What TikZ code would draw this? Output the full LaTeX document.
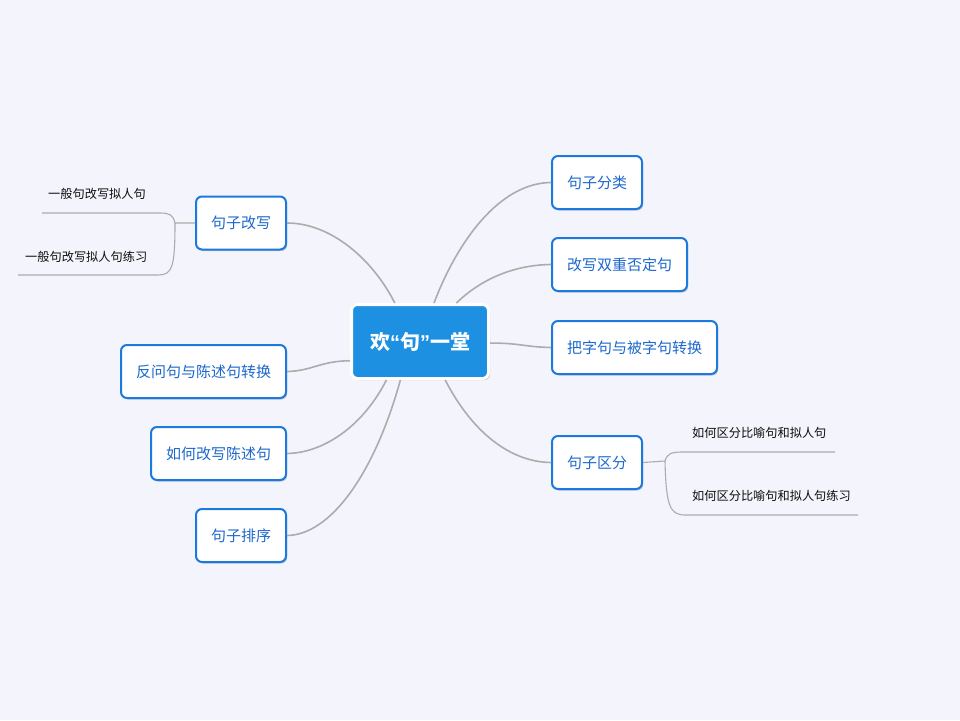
\documentclass[tikz,border=0pt]{standalone}
\usepackage{fontspec}
\setmainfont{Noto Sans CJK SC}
\newfontfamily\quotefont{Liberation Sans}
\usetikzlibrary{calc, shadows}

\definecolor{bgcol}{RGB}{244,245,252}
\definecolor{rootblue}{RGB}{30,144,226}
\definecolor{boxblue}{RGB}{28,122,222}
\definecolor{txtblue}{RGB}{28,104,204}
\definecolor{linegray}{RGB}{172,172,172}

\begin{document}
\begin{tikzpicture}[x=1pt, y=-1pt,
  root/.style={draw=white, line width=3pt, fill=rootblue, rounded corners=6pt,
    minimum width=137pt, minimum height=74pt, text=white,
    font=\fontsize{20}{24}\selectfont\bfseries,
    drop shadow={shadow xshift=1.5pt, shadow yshift=-1.5pt, fill=black, opacity=.25}},
  topic/.style={draw=boxblue, line width=2pt, fill=white, rounded corners=6pt,
    inner xsep=15pt, minimum height=53pt, text=txtblue,
    font=\fontsize{15}{18}\selectfont,
    drop shadow={shadow xshift=1.2pt, shadow yshift=-1.5pt, fill=black, opacity=.2}},
  leaf/.style={text=black!95, font=\fontsize{12.2}{15}\selectfont, inner sep=0pt},
  branch/.style={draw=linegray, line width=1.6pt},
  twig/.style={draw=linegray, line width=1.1pt}]
\useasboundingbox (0,0) rectangle (960,720);
\fill[bgcol] (0,0) rectangle (960,720);

% centre and topics
\node[root] (root) at (420,341.5) {欢{\quotefont\bfseries “}句{\quotefont\bfseries ”}一堂};
\node[topic, anchor=west] (n1) at (551,182.5) {句子分类};
\node[topic, anchor=west] (n2) at (551,264.5) {改写双重否定句};
\node[topic, anchor=west] (n3) at (551,347.5) {把字句与被字句转换};
\node[topic, anchor=west] (n4) at (551,462.5) {句子区分};
\node[topic, anchor=east] (m1) at (287,223) {句子改写};
\node[topic, anchor=east] (m2) at (287,371.5) {反问句与陈述句转换};
\node[topic, anchor=east] (m3) at (287,453.5) {如何改写陈述句};
\node[topic, anchor=east] (m4) at (287,535.5) {句子排序};

% leaves
\node[leaf, anchor=west] (a1) at (48,194) {一般句改写拟人句};
\node[leaf, anchor=west] (a2) at (25,257) {一般句改写拟人句练习};
\node[leaf, anchor=west] (b1) at (692,433) {如何区分比喻句和拟人句};
\node[leaf, anchor=west] (b2) at (692,496) {如何区分比喻句和拟人句练习};

% ends on the centre box
\coordinate (r1) at ($(root.north west)!.6!(root.north east)$);
\coordinate (r2) at ($(root.north west)!.76!(root.north east)$);
\coordinate (r3) at ($(root.north east)!.52!(root.south east)$);
\coordinate (r4) at ($(root.south west)!.68!(root.south east)$);
\coordinate (l1) at ($(root.north west)!.32!(root.north east)$);
\coordinate (l2) at ($(root.north west)!.75!(root.south west)$);
\coordinate (l3) at ($(root.south west)!.26!(root.south east)$);
\coordinate (l4) at ($(root.south west)!.36!(root.south east)$);

\draw[branch] (r1) .. controls (458,240) and (500,183) .. (n1.west);
\draw[branch] (r2) .. controls (478,282) and (510,265) .. (n2.west);
\draw[branch] (r3) .. controls (520,343) and (525,347) .. (n3.west);
\draw[branch] (r4) .. controls (472,432) and (510,462) .. (n4.west);
\draw[branch] (l1) .. controls (372,258) and (330,223) .. (m1.east);
\draw[branch] (l2) .. controls (320,361) and (312,371) .. (m2.east);
\draw[branch] (l3) .. controls (362,428) and (322,453) .. (m3.east);
\draw[branch] (l4) .. controls (374,475) and (330,535) .. (m4.east);

% sub branches
\coordinate (kl) at (175,223);
\coordinate (kl1) at (42,213);
\coordinate (kl2) at (18,275);
\draw[twig] (m1.west) -- (kl) .. controls (173,215) and (170,213) .. (160,213) -- (kl1);
\draw[twig] (kl) .. controls (175,268) and (172,275) .. (158,275) -- (kl2);
\coordinate (kr) at (665,461);
\coordinate (kr1) at (835,452);
\coordinate (kr2) at (858,515);
\draw[twig] (n4.east) -- (kr) .. controls (667,454) and (671,452) .. (682,452) -- (kr1);
\draw[twig] (kr) .. controls (666,506) and (670,515) .. (685,515) -- (kr2);
\end{tikzpicture}
\end{document}
